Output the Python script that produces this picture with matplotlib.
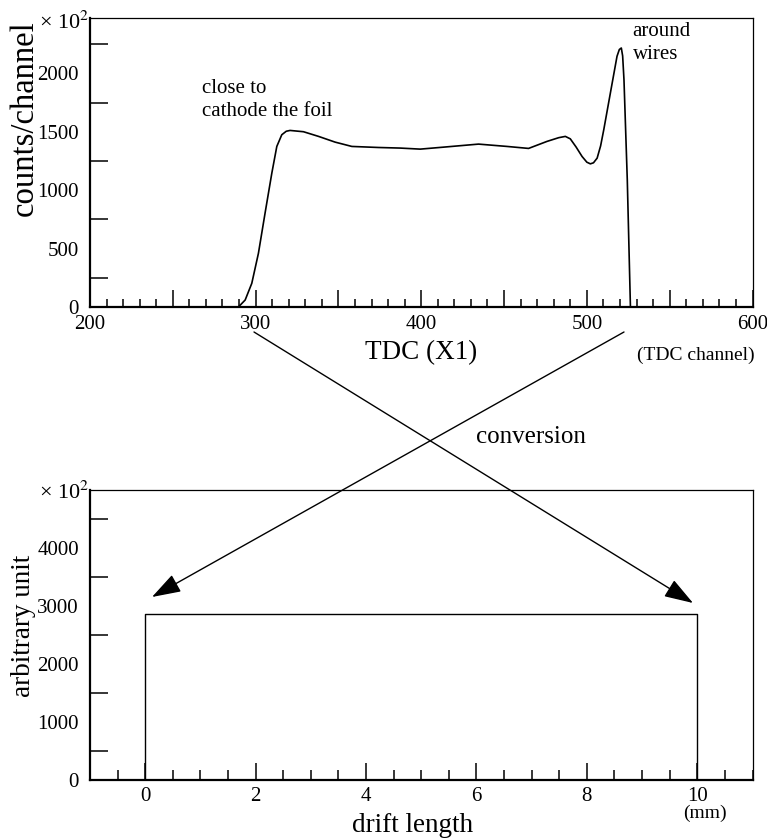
import matplotlib
matplotlib.use('Agg')
import matplotlib.pyplot as plt
from matplotlib.patches import FancyArrowPatch
from matplotlib.ticker import MultipleLocator, FixedLocator, FuncFormatter

plt.rcParams['font.family'] = ['Liberation Serif', 'DejaVu Serif']
plt.rcParams['mathtext.fontset'] = 'stix'

# TDC spectrum (channel, counts/channel)
tdc_channel = [289.6, 293.7, 297.7, 301.7, 305.7, 309.8, 312.8, 315.8, 318.5, 320.8,
               328.9, 338.0, 348.0, 358.1, 374.2, 387.3, 399.4, 413.5, 434.6, 451.8,
               464.8, 475.9, 483.0, 487.0, 490.0, 493.5, 497.1, 500.0, 502.1, 504.0,
               506.2, 508.3, 510.2, 514.2, 518.2, 519.6, 520.8, 521.6, 522.4, 524.4,
               526.3]
tdc_counts = [0, 60, 203, 460, 803, 1147, 1375, 1475, 1505, 1512,
              1501, 1461, 1412, 1375, 1366, 1361, 1352, 1369, 1395, 1375,
              1358, 1418, 1450, 1461, 1440, 1370, 1289, 1240, 1226, 1235,
              1275, 1380, 1518, 1833, 2147, 2205, 2218, 2150, 1947, 1089,
              0]

# converted drift-length distribution (flat box)
drift_edges = [0, 10]
drift_level = 2870

fig = plt.figure(figsize=(7.67, 8.4), dpi=100)
ax1 = fig.add_axes([0.1173, 0.6345, 0.8638, 0.3441])
ax2 = fig.add_axes([0.1173, 0.0714, 0.8638, 0.3453])

for ax in (ax1, ax2):
    ax.spines['bottom'].set_linewidth(1.6)
    ax.spines['left'].set_linewidth(1.6)
    ax.spines['top'].set_linewidth(0.9)
    ax.spines['right'].set_linewidth(0.9)

# ---- top: TDC spectrum
ax1.plot(tdc_channel, tdc_counts, color='black', lw=1.2)
ax1.set_xlim(200, 600)
ax1.set_ylim(0, 2475)
ax1.xaxis.set_major_locator(MultipleLocator(50))
ax1.xaxis.set_minor_locator(MultipleLocator(10))
ax1.xaxis.set_major_formatter(FuncFormatter(lambda v, p: f'{v:.0f}' if v % 100 == 0 else ''))
ax1.yaxis.set_major_locator(FixedLocator([0, 500, 1000, 1500, 2000]))
ax1.yaxis.set_minor_locator(FixedLocator([250, 750, 1250, 1750, 2250]))
ax1.tick_params(axis='x', which='major', direction='in', length=12, width=1.1, labelsize=15, pad=5.5)
ax1.tick_params(axis='x', which='minor', direction='in', length=6, width=1.1)
ax1.tick_params(axis='y', which='major', direction='in', length=0, labelsize=15, pad=8)
ax1.tick_params(axis='y', which='minor', direction='in', length=13, width=1.1)
ax1.set_xlabel('TDC (X1)', fontsize=19.5, labelpad=5)
ax1.text(0.169, 0.716, 'close to\ncathode the foil', transform=ax1.transAxes,
         fontsize=15, ha='left', va='center', linespacing=1.25)
ax1.text(0.819, 0.985, 'around\nwires', transform=ax1.transAxes,
         fontsize=15, ha='left', va='top', linespacing=1.25)
fig.text(24 / 767, 1 - 118 / 840, 'counts/channel', fontsize=23.5, rotation=90,
         ha='center', va='center')

# ---- bottom: drift length
ax2.plot([drift_edges[0], drift_edges[0], drift_edges[1], drift_edges[1]],
         [0, drift_level, drift_level, 0], color='black', lw=1.0)
ax2.set_xlim(-1, 11)
ax2.set_ylim(0, 5000)
ax2.xaxis.set_major_locator(MultipleLocator(2))
ax2.xaxis.set_minor_locator(MultipleLocator(0.5))
ax2.yaxis.set_major_locator(FixedLocator([0, 1000, 2000, 3000, 4000]))
ax2.yaxis.set_minor_locator(FixedLocator([500, 1500, 2500, 3500, 4500]))
ax2.tick_params(axis='x', which='major', direction='in', length=12, width=1.1, labelsize=15, pad=5)
ax2.tick_params(axis='x', which='minor', direction='in', length=7, width=1.1)
ax2.tick_params(axis='y', which='major', direction='in', length=0, labelsize=15, pad=8)
ax2.tick_params(axis='y', which='minor', direction='in', length=13, width=1.1)
fig.text(24 / 767, 1 - 626 / 840, 'arbitrary unit', fontsize=19.5, rotation=90,
         ha='center', va='center')
fig.text(413 / 767, 1 - 826 / 840, 'drift length', fontsize=19.5, ha='center', va='center')

# exponent markers and units
fig.text(39 / 767, 1 - 23 / 840, r'× 10$^{2}$', fontsize=16, ha='left', va='center')
fig.text(39 / 767, 1 - 493 / 840, r'× 10$^{2}$', fontsize=16, ha='left', va='center')
fig.text(696 / 767, 1 - 355 / 840, '(TDC channel)', fontsize=14, ha='center', va='center')
fig.text(705 / 767, 1 - 813 / 840, '(mm)', fontsize=14, ha='center', va='center')
fig.text(531 / 767, 1 - 437 / 840, 'conversion', fontsize=18, ha='center', va='center')

# conversion arrows crossing between the panels
arrow_style = dict(arrowstyle='-|>,head_length=1.8,head_width=0.6', color='black',
                   lw=1.0, mutation_scale=10, shrinkA=0, shrinkB=0)
fig.add_artist(FancyArrowPatch(
    (254 / 767, 1 - 332 / 840), (693 / 767, 1 - 603 / 840),
    transform=fig.transFigure, **arrow_style))
fig.add_artist(FancyArrowPatch(
    (624 / 767, 1 - 332 / 840), (152 / 767, 1 - 597 / 840),
    transform=fig.transFigure, **arrow_style))

fig.savefig('out.png', dpi=100)
